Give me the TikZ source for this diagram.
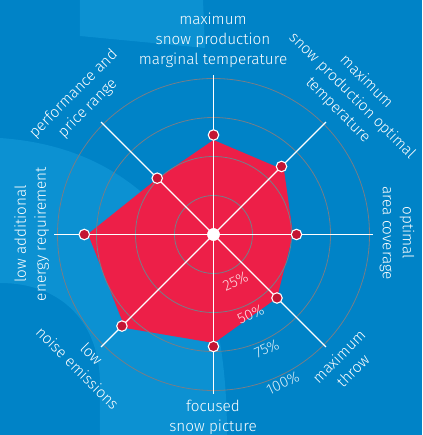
\documentclass[tikz,border=0pt]{standalone}
\usepackage{fontspec}
\setmainfont{Fira Sans}[UprightFont={* Light}]
\definecolor{bgblue}{RGB}{0,131,199}
\definecolor{bglight}{RGB}{12,145,210}
\definecolor{polyred}{RGB}{237,31,72}
\definecolor{dotred}{RGB}{196,22,52}
\definecolor{ringgray}{RGB}{118,126,136}
\begin{document}
\begin{tikzpicture}[x=1pt,y=1pt,
  lbl/.style={text=white, font=\fontsize{15.3}{20}\selectfont, align=center, inner sep=0pt},
  pct/.style={text=white, text opacity=0.85, font=\fontsize{15}{16}\selectfont, inner sep=0pt, rotate=25},
  ring/.style={draw=ringgray, line width=0.8pt},
  axisline/.style={draw=white, line width=1.4pt},
  datadot/.style={circle, fill=dotred, draw=white, line width=1.1pt, minimum size=10.5pt, inner sep=0pt},
  hub/.style={circle, fill=white, minimum size=12.5pt, inner sep=0pt}]
\useasboundingbox (-213.5,-200.5) rectangle (208.5,234.5);
% background
\fill[bgblue] (-213.5,-200.5) rectangle (208.5,234.5);
\fill[bglight] (-133.5,234.5) -- (-10.5,234.5) -- (-8.5,186.5) -- (-133.5,198.5) -- cycle;
\fill[bglight] (-213.5,96.5) .. controls (-150,92) and (-90,70) .. (-40,10)
  .. controls (0,-40) and (13.5,-120) .. (13.5,-200.5) -- (-113.5,-200.5) -- (-113.5,-150)
  .. controls (-113.5,-90) and (-150,-48.5) .. (-213.5,-48.5) -- cycle;
% polygon
\fill[polyred] (0,94.5) -- (70.5,64.5) -- (79.5,0.5) -- (63.5,-63.5) -- (0.5,-108.5)
  -- (-88.5,-93.5) -- (-125.5,0.5) -- (-55.5,56.5) -- cycle;
% hub and rings
\node[hub] (c) at (0,0) {};
\foreach \r in {39,78,117,156} { \draw[ring] (c.center) circle[radius=\r]; }
% axes
\coordinate (aN) at (90:159);
\coordinate (aNE) at (45:159);
\coordinate (aE) at (0:159);
\coordinate (aSE) at (-45:159);
\coordinate (aS) at (-90:159);
\coordinate (aSW) at (-135:159);
\coordinate (aW) at (180:159);
\coordinate (aNW) at (135:159);
\foreach \a in {aN,aNE,aE,aSE,aS,aSW,aW,aNW} { \draw[axisline] (c.center) -- (\a); }
\node[hub] (c2) at (0,0) {};
% data dots
\node[datadot] (dN) at (90:99.5) {};
\node[datadot] (dNE) at (45:96.2) {};
\node[datadot] (dE) at (0:83) {};
\node[datadot] (dSE) at (-45:89.8) {};
\node[datadot] (dS) at (-90:112) {};
\node[datadot] (dSW) at (-135:129.5) {};
\node[datadot] (dW) at (180:129.2) {};
\node[datadot] (dNW) at (135:79.6) {};
% percent labels
\node[pct] (p25) at (-65:52) {25\%};
\node[pct] (p50) at (-65:88) {50\%};
\node[pct] (p75) at (-65:126) {75\%};
\node[pct] (p100) at (-65:164) {100\%};
% axis labels
\node[lbl] (lN) at (-0.5,194.5) {maximum\\snow production\\marginal temperature};
\node[lbl, rotate=-45] (lNE) at (138.5,138.5) {maximum\\snow production optimal\\temperature};
\node[lbl, rotate=-90] (lE) at (183.5,1.5) {optimal\\area coverage};
\node[lbl, rotate=45] (lSE) at (132.3,-128.8) {maximum\\throw};
\node[lbl] (lS) at (-0.5,-182.5) {focused\\snow picture};
\node[lbl, rotate=-45] (lSW) at (-128.9,-126.3) {low\\noise emissions};
\node[lbl, rotate=90] (lW) at (-181.8,0.5) {low additional\\energy requirement};
\node[lbl, rotate=45] (lNW) at (-132.7,133.3) {performance and\\price range};
\end{tikzpicture}
\end{document}
